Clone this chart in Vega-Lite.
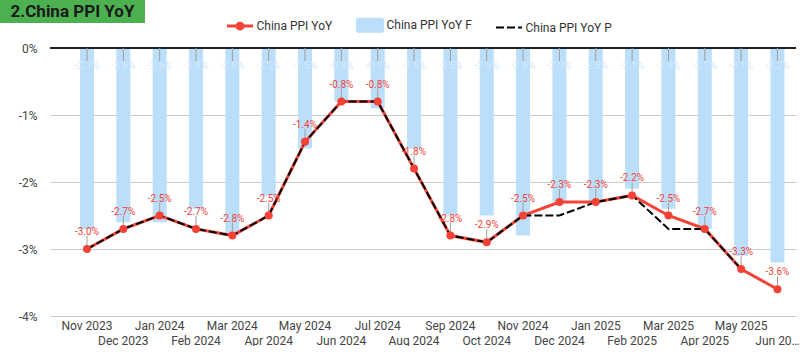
{
  "$schema": "https://vega.github.io/schema/vega-lite/v6.json",
  "padding": 0,
  "background": "#ffffff",
  "config": {
    "font": "Roboto",
    "view": {"stroke": null},
    "legend": {"layout": {"top": {"anchor": "middle"}}}
  },
  "spacing": -4,
  "resolve": {"scale": {"color": "independent"}, "legend": {"color": "independent"}},
  "vconcat": [
    {
      "width": 145,
      "height": 23,
      "view": {"fill": "#4CAF50", "stroke": null},
      "data": {"values": [{"t": "2.China PPI YoY"}]},
      "mark": {"type": "text", "fontSize": 17, "fontWeight": "bold", "color": "#1b1b1b", "font": "Roboto"},
      "encoding": {"text": {"field": "t", "type": "nominal"}}
    },
    {
      "spacing": 0,
      "resolve": {"scale": {"color": "independent"}, "legend": {"color": "independent"}},
      "hconcat": [
        {
          "width": 1,
          "height": 1,
          "data": {"values": [{"t": ""}]},
          "mark": {"type": "text"},
          "encoding": {"text": {"field": "t", "type": "nominal"}}
        },
        {
          "width": 746,
          "height": 268,
          "data": {"values": [
            {"month": "Nov 2023", "actual": -3.0, "f": -2.7, "p": -3.0},
            {"month": "Dec 2023", "actual": -2.7, "f": -2.6, "p": -2.7},
            {"month": "Jan 2024", "actual": -2.5, "f": -2.6, "p": -2.5},
            {"month": "Feb 2024", "actual": -2.7, "f": -2.4, "p": -2.7},
            {"month": "Mar 2024", "actual": -2.8, "f": -2.8, "p": -2.8},
            {"month": "Apr 2024", "actual": -2.5, "f": -2.2, "p": -2.5},
            {"month": "May 2024", "actual": -1.4, "f": -1.5, "p": -1.4},
            {"month": "Jun 2024", "actual": -0.8, "f": -0.8, "p": -0.8},
            {"month": "Jul 2024", "actual": -0.8, "f": -0.9, "p": -0.8},
            {"month": "Aug 2024", "actual": -1.8, "f": -1.5, "p": -1.8},
            {"month": "Sep 2024", "actual": -2.8, "f": -2.5, "p": -2.8},
            {"month": "Oct 2024", "actual": -2.9, "f": -2.5, "p": -2.9},
            {"month": "Nov 2024", "actual": -2.5, "f": -2.8, "p": -2.5},
            {"month": "Dec 2024", "actual": -2.3, "f": -2.3, "p": -2.5},
            {"month": "Jan 2025", "actual": -2.3, "f": -2.3, "p": -2.3},
            {"month": "Feb 2025", "actual": -2.2, "f": -2.1, "p": -2.2},
            {"month": "Mar 2025", "actual": -2.5, "f": -2.4, "p": -2.7},
            {"month": "Apr 2025", "actual": -2.7, "f": -2.7, "p": -2.7},
            {"month": "May 2025", "actual": -3.3, "f": -3.1, "p": -3.3},
            {"month": "Jun 2025", "actual": -3.6, "f": -3.2}
          ]},
          "layer": [
            {
              "mark": {"type": "bar"},
              "encoding": {
                "x": {
                  "field": "month", "type": "nominal", "sort": null, "title": null,
                  "scale": {"paddingInner": 0.615, "paddingOuter": 0.5715, "align": 0.722},
                  "axis": {
                    "labelAngle": 0, "ticks": false, "domain": false, "grid": false,
                    "labelPadding": 4, "labelFontSize": 12, "labelColor": "#444444",
                    "labelLineHeight": 15, "labelOverlap": false,
                    "labelExpr": "indexof(['Dec','Feb','Apr','Jun','Aug','Oct'], substring(datum.label, 0, 3)) >= 0 ? ['', datum.label === 'Jun 2025' ? 'Jun 20…' : datum.label] : datum.label"
                  }
                },
                "y": {
                  "field": "f", "type": "quantitative", "title": null,
                  "scale": {"domain": [-4, 0], "nice": false},
                  "axis": {
                    "values": [-4, -3.5, -3, -2.5, -2, -1.5, -1, -0.5, 0],
                    "labelExpr": "datum.value == round(datum.value) ? datum.value + '%' : ''",
                    "grid": true, "gridColor": "#cccccc", "ticks": false, "domain": false,
                    "labelPadding": 13, "labelFontSize": 12, "labelColor": "#444444",
                    "minExtent": 49, "maxExtent": 49
                  }
                },
                "color": {
                  "datum": "China PPI YoY F", "type": "nominal",
                  "scale": {
                    "domain": ["China PPI YoY", "China PPI YoY F", "China PPI YoY P"],
                    "range": ["#F44336", "#BBDEFB", "#000000"]
                  },
                  "legend": {
                    "title": null, "orient": "top", "direction": "horizontal",
                    "offset": 12, "padding": 0, "labelFontSize": 12, "labelColor": "#333333",
                    "labelOffset": 10.5, "columnPadding": 20, "symbolSize": 676,
                    "encode": {
                      "symbols": {
                        "update": {
                          "shape": {"signal": "datum.value === 'China PPI YoY F' ? 'M-1,-0.5H1V0.5H-1Z' : datum.value === 'China PPI YoY' ? 'M-1,0H1M0.22,0A0.22,0.22,0,1,1,-0.22,0A0.22,0.22,0,1,1,0.22,0Z' : 'M-1,0H1'"},
                          "fill": {"signal": "datum.value === 'China PPI YoY F' ? '#BBDEFB' : datum.value === 'China PPI YoY' ? '#F44336' : 'transparent'"},
                          "stroke": {"signal": "datum.value === 'China PPI YoY F' ? 'transparent' : datum.value === 'China PPI YoY' ? '#F44336' : '#000000'"},
                          "strokeWidth": {"signal": "datum.value === 'China PPI YoY' ? 3 : 2"},
                          "strokeDash": {"signal": "datum.value === 'China PPI YoY P' ? [8,3] : [1,0]"},
                          "opacity": {"value": 1},
                          "fillOpacity": {"value": 1},
                          "strokeOpacity": {"value": 1}
                        }
                      }
                    }
                  }
                }
              }
            },
            {
              "mark": {"type": "rule", "color": "#222222", "strokeWidth": 1.5},
              "encoding": {"y": {"datum": 0, "type": "quantitative"}}
            },
            {
              "mark": {"type": "rule", "color": "#9e9e9e", "strokeWidth": 1, "y2Offset": 13},
              "encoding": {
                "x": {"field": "month", "type": "nominal", "sort": null},
                "y": {"datum": 0, "type": "quantitative"},
                "y2": {"datum": 0}
              }
            },
            {
              "mark": {"type": "text", "dy": 18, "fontSize": 10, "color": "#d4e8fb", "text": {"expr": "replace(format(datum.f, '.1f'), '\u2212', '-') + '%'"}},
              "encoding": {
                "x": {"field": "month", "type": "nominal", "sort": null},
                "y": {"datum": 0, "type": "quantitative"}
              }
            },
            {
              "mark": {"type": "line", "strokeWidth": 3},
              "encoding": {
                "x": {"field": "month", "type": "nominal", "sort": null},
                "y": {"field": "actual", "type": "quantitative"},
                "color": {"datum": "China PPI YoY", "type": "nominal"}
              }
            },
            {
              "mark": {"type": "line", "strokeWidth": 2, "strokeDash": [8, 3]},
              "encoding": {
                "x": {"field": "month", "type": "nominal", "sort": null},
                "y": {"field": "p", "type": "quantitative"},
                "color": {"datum": "China PPI YoY P", "type": "nominal"}
              }
            },
            {
              "mark": {"type": "rule", "color": "#9e9e9e", "strokeWidth": 1, "y2Offset": -13},
              "encoding": {
                "x": {"field": "month", "type": "nominal", "sort": null},
                "y": {"field": "actual", "type": "quantitative"},
                "y2": {"field": "actual"}
              }
            },
            {
              "mark": {"type": "circle", "size": 64, "color": "#F44336", "opacity": 1},
              "encoding": {
                "x": {"field": "month", "type": "nominal", "sort": null},
                "y": {"field": "actual", "type": "quantitative"}
              }
            },
            {
              "mark": {"type": "text", "dy": -17, "fontSize": 10, "color": "#F44336", "text": {"expr": "replace(format(datum.actual, '.1f'), '\u2212', '-') + '%'"}},
              "encoding": {
                "x": {"field": "month", "type": "nominal", "sort": null},
                "y": {"field": "actual", "type": "quantitative"}
              }
            }
          ]
        }
      ]
    }
  ]
}
